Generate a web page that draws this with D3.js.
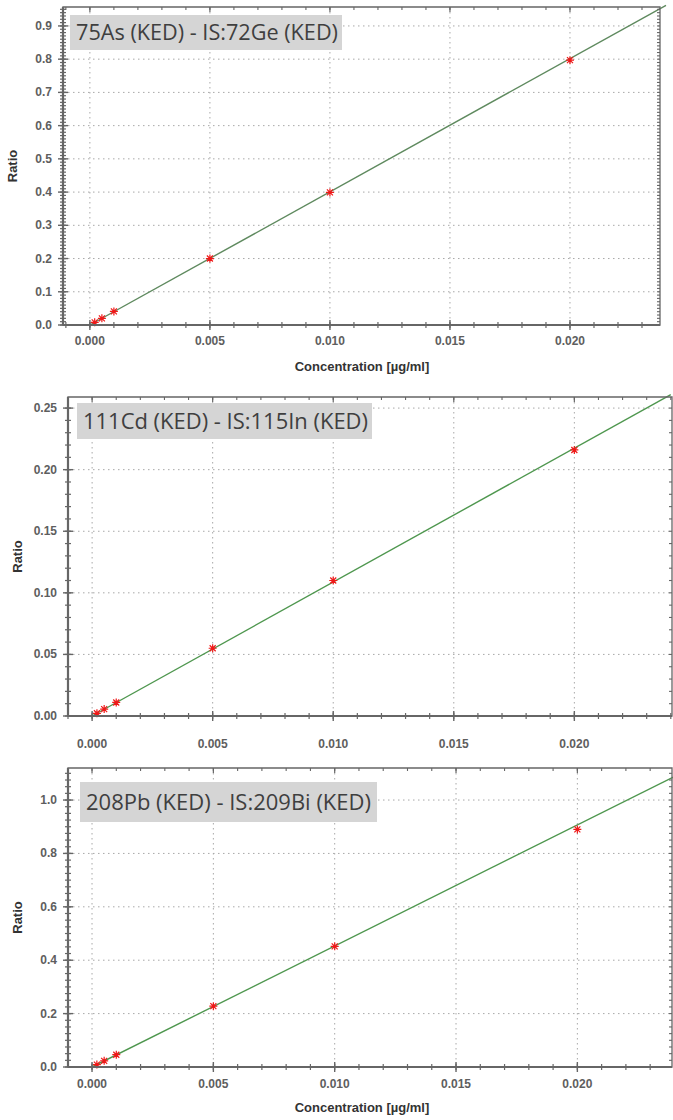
<!DOCTYPE html>
<html>
<head>
<meta charset="utf-8">
<script src="https://cdn.jsdelivr.net/npm/d3@7"></script>
<style>
  body { margin: 0; background: #fff; }
  svg { display: block; }
  .tick-label { font-family: "Liberation Sans", Arial, sans-serif; font-size: 12px; font-weight: bold; fill: #5e5e5e; }
  .axis-title { font-family: "Liberation Sans", Arial, sans-serif; font-size: 13px; font-weight: bold; fill: #333; }
  .panel-title { font-family: "Open Sans", "Noto Sans", sans-serif; font-size: 21.5px; fill: #3f3f3f; }
</style>
</head>
<body>
<div class="canvas"></div>
<script>
const concentrations = [0, 0.0002, 0.0005, 0.001, 0.005, 0.01, 0.02];
const asRatio = [0, 0.008, 0.02, 0.041, 0.2, 0.399, 0.797];
const cdRatio = [0, 0.0022, 0.0056, 0.011, 0.055, 0.11, 0.216];
const pbRatio = [0, 0.009, 0.023, 0.046, 0.228, 0.452, 0.89];

// calibration line ends (x at 0 and right edge)
const lineX = [0, 0.024];
const asLine = [0, 0.962];
const cdLine = [0, 0.261];
const pbLine = [0, 1.088];

const titles = [
  "75As (KED) - IS:72Ge (KED)",
  "111Cd (KED) - IS:115In (KED)",
  "208Pb (KED) - IS:209Bi (KED)"
];
const xTicks = [0, 0.005, 0.01, 0.015, 0.02];
const asTicks = [0, 0.1, 0.2, 0.3, 0.4, 0.5, 0.6, 0.7, 0.8, 0.9];
const cdTicks = [0, 0.05, 0.1, 0.15, 0.2, 0.25];
const pbTicks = [0, 0.2, 0.4, 0.6, 0.8, 1.0];

const panels = [
  { title: titles[0], ratio: asRatio, line: asLine, yTicks: asTicks, yFmt: ".1f", minor: 0.01,
    left: 63, right: 660, top: 7, bottom: 325, xDom: [-0.00112, 0.02375], yDom: [0, 0.957],
    box: [70, 15, 272, 35], textW: 262, xLabelY: 345, xTitleY: 371, lineColor: "#5f8a5f" },
  { title: titles[1], ratio: cdRatio, line: cdLine, yTicks: cdTicks, yFmt: ".2f", minor: 0.01,
    left: 68, right: 672, top: 397, bottom: 716, xDom: [-0.001, 0.02405], yDom: [0, 0.259],
    box: [77, 403, 295, 36], textW: 285, xLabelY: 748, xTitleY: null, lineColor: "#4f974f" },
  { title: titles[2], ratio: pbRatio, line: pbLine, yTicks: pbTicks, yFmt: ".1f", minor: 0.025,
    left: 68, right: 672, top: 768, bottom: 1067, xDom: [-0.00099, 0.0239], yDom: [0, 1.12],
    box: [80, 782, 297, 40], textW: 285, xLabelY: 1088, xTitleY: 1112, lineColor: "#4f974f" }
];

const svg = d3.select(".canvas").append("svg").attr("width", 673).attr("height", 1120);

panels.forEach(p => {
  const x = d3.scaleLinear().domain(p.xDom).range([p.left, p.right]);
  const y = d3.scaleLinear().domain(p.yDom).range([p.bottom, p.top]);
  const g = svg.append("g");

  // dotted grid
  g.selectAll(".gx").data(xTicks).enter().append("line")
    .attr("x1", d => x(d)).attr("x2", d => x(d))
    .attr("y1", p.top).attr("y2", p.bottom)
    .attr("stroke", "#a8a8a8").attr("stroke-dasharray", "1.5,3.5");
  g.selectAll(".gy").data(p.yTicks.slice(1)).enter().append("line")
    .attr("x1", p.left).attr("x2", p.right)
    .attr("y1", d => y(d)).attr("y2", d => y(d))
    .attr("stroke", "#a8a8a8").attr("stroke-dasharray", "1.5,3.5");

  // title box
  g.append("rect").attr("x", p.box[0]).attr("y", p.box[1])
    .attr("width", p.box[2]).attr("height", p.box[3]).attr("fill", "#d5d5d5");
  g.append("text").attr("class", "panel-title")
    .attr("x", p.box[0] + 6).attr("y", p.box[1] + p.box[3] / 2 + 7.5)
    .attr("textLength", p.textW).attr("lengthAdjust", "spacingAndGlyphs")
    .text(p.title);

  // calibration line
  g.append("line")
    .attr("x1", x(lineX[0])).attr("y1", y(p.line[0]))
    .attr("x2", x(lineX[1])).attr("y2", y(p.line[1]))
    .attr("stroke", p.lineColor).attr("stroke-width", 1.4);

  // points
  const pts = concentrations.map((c, i) => ({ c, r: p.ratio[i] }));
  const pg = g.selectAll(".pt").data(pts).enter().append("g")
    .attr("transform", d => `translate(${x(d.c)},${y(d.r)})`);
  pg.append("path")
    .attr("d", d => d.c === 0 ? "M-1.5,0H1.5M0,-1.5V1.5" : "M-4,0H4M0,-4V4M-3,-3L3,3M-3,3L3,-3")
    .attr("stroke", d => d.c === 0 ? "#333" : "#f01818")
    .attr("stroke-width", 1.2).attr("fill", "none");

  // frame: left + bottom axes, top + right borders
  const axisColor = "#666";
  const minorX = d3.range(-0.001, p.xDom[1], 0.001).filter(v => v >= p.xDom[0]);
  const minorY = d3.range(0, p.yDom[1], p.minor);

  // bottom ticks (cross the axis)
  g.selectAll(".mx").data(minorX).enter().append("line")
    .attr("x1", d => x(d)).attr("x2", d => x(d))
    .attr("y1", p.bottom - 3).attr("y2", p.bottom + 3)
    .attr("stroke", axisColor).attr("stroke-width", 1.2);
  g.selectAll(".Mx").data(xTicks).enter().append("line")
    .attr("x1", d => x(d)).attr("x2", d => x(d))
    .attr("y1", p.bottom - 5).attr("y2", p.bottom + 5)
    .attr("stroke", axisColor).attr("stroke-width", 1.4);
  // top ticks
  g.selectAll(".tx").data(minorX).enter().append("line")
    .attr("x1", d => x(d)).attr("x2", d => x(d))
    .attr("y1", p.top).attr("y2", p.top + 3)
    .attr("stroke", axisColor).attr("stroke-width", 1.1);
  g.selectAll(".tX").data(xTicks).enter().append("line")
    .attr("x1", d => x(d)).attr("x2", d => x(d))
    .attr("y1", p.top).attr("y2", p.top + 5)
    .attr("stroke", axisColor).attr("stroke-width", 1.2);
  // left ticks
  g.selectAll(".my").data(minorY).enter().append("line")
    .attr("x1", p.left - 3).attr("x2", p.left + 3)
    .attr("y1", d => y(d)).attr("y2", d => y(d))
    .attr("stroke", axisColor).attr("stroke-width", 1.2);
  g.selectAll(".My").data(p.yTicks).enter().append("line")
    .attr("x1", p.left - 5).attr("x2", p.left + 5)
    .attr("y1", d => y(d)).attr("y2", d => y(d))
    .attr("stroke", axisColor).attr("stroke-width", 1.4);
  // right ticks
  g.selectAll(".ry").data(minorY).enter().append("line")
    .attr("x1", p.right - 3).attr("x2", p.right)
    .attr("y1", d => y(d)).attr("y2", d => y(d))
    .attr("stroke", axisColor).attr("stroke-width", 1.1);

  g.append("path")
    .attr("d", `M${p.left},${p.bottom}V${p.top}H${p.right}V${p.bottom}Z`)
    .attr("fill", "none").attr("stroke", axisColor).attr("stroke-width", 1.3);
  g.append("line").attr("x1", p.left).attr("x2", p.right)
    .attr("y1", p.bottom).attr("y2", p.bottom)
    .attr("stroke", axisColor).attr("stroke-width", 2.2);
  g.append("line").attr("x1", p.left).attr("x2", p.left)
    .attr("y1", p.top).attr("y2", p.bottom)
    .attr("stroke", axisColor).attr("stroke-width", 2.2);

  // tick labels
  g.selectAll(".lx").data(xTicks).enter().append("text")
    .attr("class", "tick-label").attr("text-anchor", "middle")
    .attr("x", d => x(d)).attr("y", p.xLabelY)
    .text(d => d3.format(".3f")(d));
  g.selectAll(".ly").data(p.yTicks).enter().append("text")
    .attr("class", "tick-label").attr("text-anchor", "end")
    .attr("x", p.left - 11).attr("y", d => y(d) + 4)
    .text(d => d3.format(p.yFmt)(d));

  // axis titles
  g.append("text").attr("class", "axis-title")
    .attr("transform", `translate(${p.left - 46},${(p.top + p.bottom) / 2}) rotate(-90)`)
    .attr("text-anchor", "middle").text("Ratio");
  if (p.xTitleY) {
    g.append("text").attr("class", "axis-title").attr("text-anchor", "middle")
      .attr("x", 362).attr("y", p.xTitleY).text("Concentration [µg/ml]");
  }
});
</script>
</body>
</html>
